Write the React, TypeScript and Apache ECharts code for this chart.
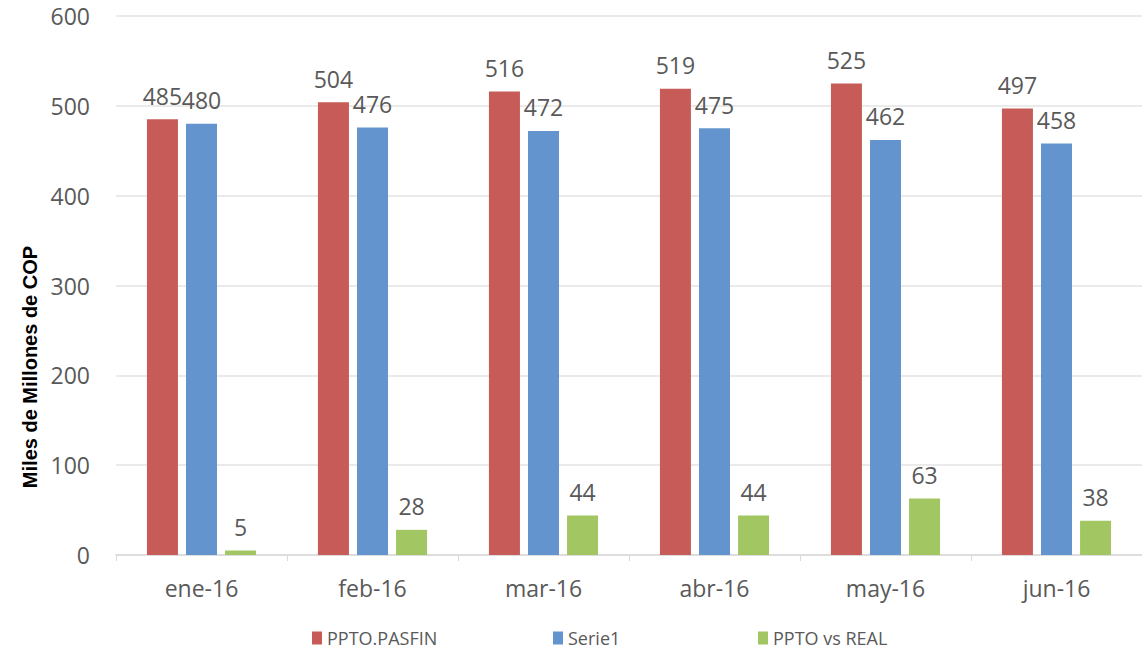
import React, { useEffect, useRef } from "react";
import * as echarts from "echarts";

const categories = ["ene-16", "feb-16", "mar-16", "abr-16", "may-16", "jun-16"];
const pptoPasfin = [485, 504, 516, 519, 525, 497];
const serie1 = [480, 476, 472, 475, 462, 458];
const pptoVsReal = [5, 28, 44, 44, 63, 38];
const seriesNames = ["PPTO.PASFIN", "Serie1", "PPTO vs REAL"];
const colors = ["#C65B57", "#6494CD", "#A2C662"];

const FONT = "'Open Sans', sans-serif";
const TXT = "#595959";

export default function App() {
  const ref = useRef<HTMLDivElement>(null);
  useEffect(() => {
    if (!ref.current) return;
    const chart = echarts.init(ref.current, undefined, { renderer: "svg" });
    const label = {
      show: true,
      position: "top" as const,
      distance: 12,
      color: TXT,
      fontFamily: FONT,
      fontSize: 23,
    };
    const data = [pptoPasfin, serie1, pptoVsReal];
    const legendLefts = [307, 548, 753];
    chart.setOption({
      animation: false,
      backgroundColor: "#ffffff",
      grid: { left: 116, top: 16, width: 1046, height: 539 },
      xAxis: {
        type: "category",
        data: categories,
        axisLine: { lineStyle: { color: "#D9D9D9", width: 1.5 } },
        axisTick: { show: true, length: 6, lineStyle: { color: "#D9D9D9" } },
        axisLabel: { color: TXT, fontFamily: FONT, fontSize: 23, margin: 21 },
      },
      yAxis: {
        type: "value",
        min: 0,
        max: 600,
        interval: 100,
        axisLine: { show: false },
        axisTick: { show: false },
        axisLabel: { color: TXT, fontFamily: FONT, fontSize: 23, margin: 26 },
        splitLine: { lineStyle: { color: "#E3E3E3", width: 1.5 } },
      },
      legend: seriesNames.map((n, i) => ({
        data: [n],
        left: legendLefts[i],
        top: 624,
        icon: "rect",
        itemWidth: 10,
        itemHeight: 13,
        itemGap: 4,
        textStyle: { color: TXT, fontFamily: FONT, fontSize: 18 },
      })),
      graphic: [
        {
          type: "text",
          x: 30,
          y: 367,
          rotation: Math.PI / 2,
          style: {
            text: "Miles de Millones de COP",
            fill: "#000000",
            font: "bold 20px 'Liberation Sans', Arial, sans-serif",
            align: "center",
            verticalAlign: "middle",
          },
        },
      ],
      series: seriesNames.map((n, i) => ({
        name: n,
        type: "bar",
        data: data[i],
        barWidth: 31,
        barGap: "26%",
        itemStyle: { color: colors[i] },
        label,
      })),
    });
    return () => chart.dispose();
  }, []);
  return (
    <div
      ref={ref}
      style={{ position: "fixed", left: 0, top: 0, width: 1142, height: 650 }}
    />
  );
}
